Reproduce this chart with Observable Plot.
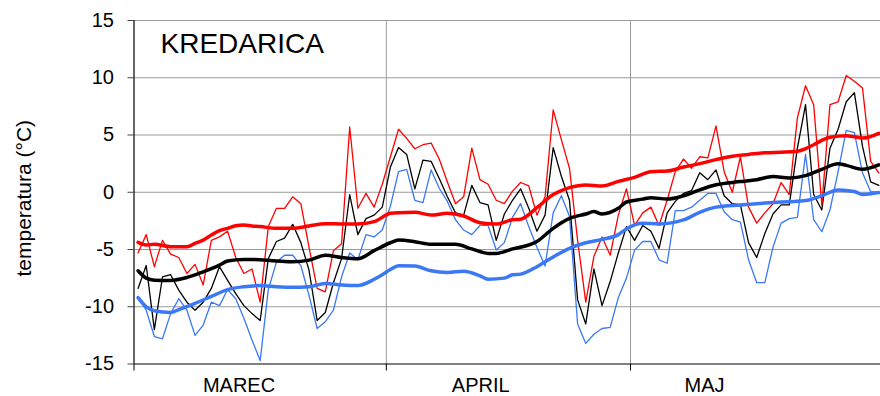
<!DOCTYPE html>
<html><head><meta charset="utf-8">
<script src="https://cdn.jsdelivr.net/npm/d3@7"></script>
<script src="https://cdn.jsdelivr.net/npm/@observablehq/plot@0.6"></script>
<style>body{margin:0;background:#fff}</style>
</head><body><div id="chart"></div>
<script>
// day index 0 = 1 March ... 91 = 31 May
const tMax = [
 -5.3,-3.7,-6.5,-4.2,-5.4,-5.7,-7.1,-6.3,-8.1,-4.2,-3.9,-3.4,-5.7,-7.1,-6.7,-9.6,-3.0,-1.4,-1.4,-0.4,-1.0,-4.8,-8.4,-8.7,-5.1,-4.5,5.7,-1.4,-0.1,-1.3,0.7,
 3.1,5.5,4.7,3.8,4.15,4.3,2.9,0.9,-1.0,-0.4,3.85,1.1,0.7,-0.7,-1.0,0.1,0.85,0.55,-2.0,-0.4,7.2,4.6,2.1,-4.2,-9.6,-5.6,-3.9,-5.5,-2.0,0.3,
 -2.9,-1.8,-1.3,-2.9,-0.7,1.8,2.9,2.1,3.1,3.0,5.8,1.8,0.0,3.1,-1.3,-2.7,-1.8,-1.0,0.85,-0.2,6.5,9.3,7.65,-1.1,7.65,7.9,10.2,9.7,9.1,2.7,1.7
];
const tMean = [
 -8.4,-6.4,-12.0,-7.4,-7.2,-8.55,-9.6,-10.3,-9.6,-8.4,-6.5,-7.7,-8.85,-9.9,-10.6,-11.2,-5.8,-4.3,-4.0,-2.8,-4.4,-6.8,-11.2,-10.5,-7.9,-5.8,-0.2,-3.7,-2.3,-2.0,-1.3,
 2.2,3.9,3.3,0.3,2.8,2.7,1.2,-0.4,-1.8,-2.0,0.6,-0.9,-1.1,-4.2,-1.9,-0.7,0.3,-1.4,-3.4,-2.0,3.9,1.4,-0.7,-9.4,-11.5,-6.7,-9.9,-7.8,-5.3,-3.0,
 -4.2,-2.9,-3.4,-4.9,-1.8,-0.8,-0.1,0.15,1.7,1.1,1.95,-0.3,-1.0,-1.1,-4.4,-5.7,-3.6,-1.9,-1.1,-1.1,3.85,7.65,-0.2,-1.55,3.85,5.5,7.9,8.7,4.0,0.9,0.6
];
const tMin = [
 -9.2,-10.3,-12.6,-12.8,-10.6,-9.3,-10.3,-12.5,-11.6,-9.6,-9.9,-8.5,-9.3,-11.0,-12.9,-14.7,-8.5,-6.1,-5.5,-5.5,-6.4,-9.0,-11.9,-11.3,-10.3,-7.4,-5.3,-5.9,-3.7,-3.9,-3.3,
 -1.2,1.8,2.0,-0.7,-0.9,1.95,0.35,-0.8,-2.4,-3.3,-3.7,-2.9,-2.9,-5.05,-4.4,-2.2,-1.0,-3.0,-4.8,-6.45,-1.8,-0.3,-2.1,-11.5,-13.2,-12.4,-11.9,-11.8,-9.2,-7.5,
 -5.05,-4.3,-4.3,-5.9,-6.2,-1.6,-1.6,-1.3,-0.7,-0.1,-0.1,-1.7,-2.4,-2.6,-5.9,-7.9,-7.9,-4.8,-2.7,-2.3,-2.2,3.3,-2.4,-3.45,-1.55,1.8,5.4,5.2,1.7,0.05,0.0
];
// long-term (smoothed) averages, read at selected days
const normMaxDay = [0,1,2,4,6,7,8,9,10,11,12,13,14,15,17,19,21,23,25,27,29,31,32,34,36,38,40,42,44,46,47,49,51,52,53,55,57,59,61,63,65,67,69,71,73,75,77,79,81,82,83,85,87,88,89,91];
const normMax    = [-4.38,-4.6,-4.55,-4.76,-4.76,-4.47,-4.18,-3.74,-3.36,-3.15,-2.92,-2.86,-2.95,-3.0,-3.15,-3.15,-2.95,-2.75,-2.77,-2.77,-2.57,-1.84,-1.78,-1.75,-1.99,-1.84,-2.07,-2.66,-2.77,-2.4,-2.35,-1.35,-0.2,0.15,0.4,0.64,0.55,0.95,1.3,1.8,1.85,2.2,2.5,2.85,3.15,3.3,3.45,3.5,3.58,3.8,4.15,4.8,4.93,4.85,4.73,5.15];
const normMeanDay = [0,1,2,4,6,8,10,11,13,14,17,19,21,23,25,27,29,31,32,34,36,39,41,43,44,46,49,51,53,55,56,57,59,60,62,63,65,67,69,71,74,76,78,80,82,84,86,87,89,91];
const normMean    = [-6.86,-7.5,-7.68,-7.7,-7.45,-6.95,-6.36,-6.0,-5.87,-5.87,-6.0,-6.07,-5.93,-5.5,-5.69,-5.8,-5.1,-4.41,-4.18,-4.32,-4.55,-4.55,-4.95,-5.34,-5.34,-4.95,-4.3,-3.15,-2.28,-1.9,-1.69,-1.9,-1.4,-0.85,-0.6,-0.47,-0.6,-0.32,0.2,0.65,0.93,1.1,1.37,1.25,1.45,2.0,2.48,2.35,2.01,2.39];
const normMinDay = [0,1,2,4,5,7,9,11,13,15,17,19,21,23,25,27,29,30,31,32,34,36,38,40,42,43,45,46,47,49,51,53,55,57,59,60,62,64,67,69,71,74,76,78,80,82,84,86,88,89,91];
const normMin    = [-9.2,-10.0,-10.35,-10.5,-10.25,-9.7,-9.1,-8.5,-8.25,-8.15,-8.25,-8.3,-8.25,-7.97,-8.1,-8.15,-7.6,-7.2,-6.75,-6.42,-6.45,-6.86,-7.0,-6.9,-7.3,-7.6,-7.5,-7.2,-7.15,-6.5,-5.65,-4.9,-4.41,-4.12,-3.7,-3.2,-2.7,-2.77,-2.42,-1.75,-1.3,-1.11,-1.0,-0.9,-0.82,-0.73,-0.3,0.2,0.06,-0.2,-0.03];

const yTicks = [-15,-10,-5,0,5,10,15];
const monthNames = ["MAREC","APRIL","MAJ"];
const monthLabelPos = [12.4,42.1,69.6];
const monthBounds = [-0.5,30.5,60.5];
const stationName = "KREDARICA";
const yLabel = "temperatura (°C)";

const daily = tMax.map((v,i)=>({i, max:v, mean:tMean[i], min:tMin[i]}));
const nMax = normMaxDay.map((d,k)=>({i:d, v:normMax[k]}));
const nMean = normMeanDay.map((d,k)=>({i:d, v:normMean[k]}));
const nMin = normMinDay.map((d,k)=>({i:d, v:normMin[k]}));

const RED = "#ff0000", BLUE = "#3a78f5", BLACK = "#000000";
const curve = "monotone-x";

const chart = Plot.plot({
  width: 880, height: 396,
  marginLeft: 133.5, marginRight: 0, marginTop: 20, marginBottom: 32.5,
  x: {domain: [-0.5, 91.21]},
  y: {domain: [-15, 15]},
  style: {fontFamily: "'Liberation Sans', Arial, sans-serif", background: "white", color: "black"},
  marks: [
    Plot.ruleY(yTicks.filter(d => d !== -15), {stroke: "#9a9a9a", strokeWidth: 1}),
    Plot.ruleX(monthBounds.slice(1), {y1: -15, y2: 15, stroke: "#9a9a9a", strokeWidth: 1}),
    Plot.line(daily, {x: "i", y: "min", stroke: BLUE, strokeWidth: 1.3}),
    Plot.line(daily, {x: "i", y: "mean", stroke: BLACK, strokeWidth: 1.3}),
    Plot.line(daily, {x: "i", y: "max", stroke: RED, strokeWidth: 1.3}),
    Plot.line(nMin, {x: "i", y: "v", stroke: BLUE, strokeWidth: 3.5, curve}),
    Plot.line(nMean, {x: "i", y: "v", stroke: BLACK, strokeWidth: 3.5, curve}),
    Plot.line(nMax, {x: "i", y: "v", stroke: RED, strokeWidth: 3.5, curve}),
    Plot.ruleY([-15], {stroke: "#555", strokeWidth: 1.6}),
    Plot.ruleX([monthBounds[0]], {y1: -15, y2: 15, stroke: "black", strokeWidth: 1.2}),
    Plot.axisY({ticks: yTicks, tickSize: 6, tickPadding: 14, fontSize: 20, tickFormat: d => String(d), label: null, stroke: "#444"}),
    Plot.axisX({ticks: monthBounds, tickSize: 7, tickFormat: () => "", label: null}),
    Plot.axisX({ticks: monthLabelPos, tickSize: 0, tickPadding: 14, fontSize: 20, tickFormat: d => monthNames[monthLabelPos.indexOf(d)], label: null}),
    Plot.text([stationName], {frameAnchor: "top-left", dx: 26.5, dy: 13, lineAnchor: "top", textAnchor: "start", fontSize: 28, fill: "black"}),
    Plot.text([yLabel], {frameAnchor: "left", rotate: -90, dx: -110, dy: 6, textAnchor: "middle", lineAnchor: "middle", fontSize: 21, fill: "black"})
  ]
});
document.getElementById("chart").appendChild(chart);
</script>
</body></html>
